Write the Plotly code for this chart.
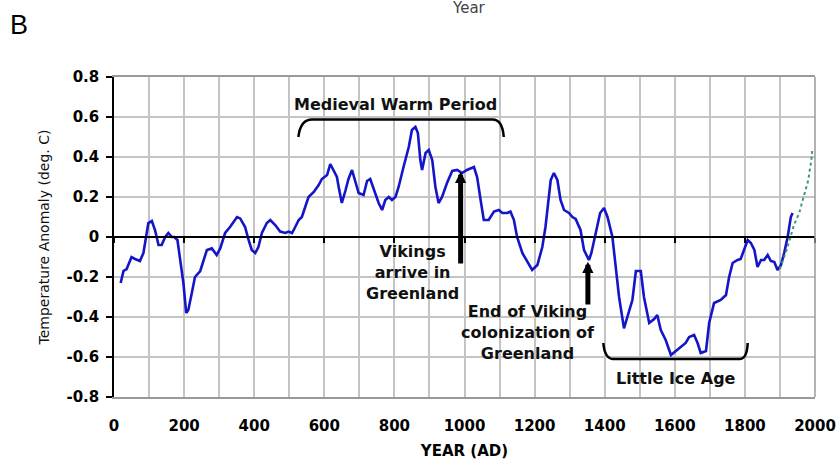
import plotly.graph_objects as go

# Reconstructed Northern Hemisphere temperature anomaly (deg. C), years AD
years = [19, 27, 36, 50, 60, 74, 84, 93, 98, 108, 117, 127, 136, 146, 155, 165, 172, 181,
         189, 198, 206, 212, 222, 231, 246, 255, 265, 279, 293, 303, 317, 331, 351, 360,
         374, 384, 393, 403, 412, 422, 436, 446, 460, 474, 489, 498, 508, 517, 527, 536,
         546, 555, 570, 584, 593, 608, 617, 627, 636, 641, 650, 660, 669, 679, 689, 698,
         712, 722, 731, 741, 755, 765, 774, 784, 793, 803, 812, 826, 841, 850, 860, 867,
         874, 879, 889, 898, 908, 917, 926, 936, 950, 965, 979, 993, 1007, 1027, 1036,
         1046, 1055, 1069, 1084, 1098, 1108, 1122, 1131, 1141, 1150, 1165, 1179, 1193,
         1208, 1222, 1231, 1246, 1255, 1265, 1274, 1284, 1298, 1308, 1317, 1331, 1341,
         1355, 1362, 1374, 1387, 1398, 1408, 1422, 1431, 1441, 1455, 1465, 1479, 1489,
         1503, 1512, 1527, 1541, 1550, 1560, 1574, 1589, 1603, 1617, 1631, 1641, 1655,
         1665, 1674, 1689, 1698, 1712, 1731, 1746, 1755, 1765, 1779, 1788, 1798, 1808,
         1817, 1827, 1836, 1846, 1855, 1865, 1874, 1884, 1893, 1903, 1912, 1922, 1931, 1936]
anomaly = [-0.23, -0.17, -0.16, -0.10, -0.11, -0.12, -0.08, 0.01, 0.07, 0.08, 0.035, -0.04,
           -0.04, 0.0, 0.02, 0.0, 0.0, -0.015, -0.115, -0.23, -0.38, -0.365, -0.28, -0.20,
           -0.17, -0.115, -0.065, -0.057, -0.09, -0.057, 0.02, 0.05, 0.10, 0.093, 0.05,
           -0.015, -0.065, -0.08, -0.05, 0.02, 0.07, 0.085, 0.06, 0.027, 0.02, 0.027, 0.02,
           0.05, 0.085, 0.10, 0.15, 0.20, 0.225, 0.26, 0.29, 0.31, 0.365, 0.33, 0.30, 0.25,
           0.17, 0.23, 0.29, 0.335, 0.27, 0.22, 0.21, 0.28, 0.29, 0.235, 0.17, 0.135, 0.185,
           0.20, 0.185, 0.20, 0.25, 0.35, 0.45, 0.535, 0.55, 0.52, 0.385, 0.335, 0.42, 0.435,
           0.385, 0.25, 0.17, 0.20, 0.27, 0.33, 0.335, 0.32, 0.335, 0.35, 0.30, 0.185, 0.085,
           0.085, 0.127, 0.135, 0.12, 0.12, 0.127, 0.085, 0.0, -0.08, -0.12, -0.165, -0.14,
           -0.05, 0.05, 0.285, 0.32, 0.285, 0.185, 0.135, 0.12, 0.10, 0.09, 0.035, -0.065,
           -0.115, -0.08, 0.02, 0.12, 0.145, 0.10, 0.0, -0.15, -0.30, -0.457, -0.40, -0.315,
           -0.17, -0.17, -0.30, -0.43, -0.41, -0.39, -0.465, -0.515, -0.59, -0.57, -0.55,
           -0.53, -0.50, -0.49, -0.53, -0.58, -0.57, -0.43, -0.33, -0.315, -0.29, -0.20,
           -0.13, -0.115, -0.11, -0.057, -0.015, -0.03, -0.065, -0.15, -0.115, -0.115, -0.09,
           -0.12, -0.125, -0.165, -0.14, -0.08, 0.0, 0.10, 0.12]

# Instrumental record (dotted)
instr_years = [1900, 1920, 1940, 1955, 1965, 1974, 1981, 1985, 1989, 1992]
instr_anomaly = [-0.16, -0.06, 0.06, 0.12, 0.185, 0.235, 0.285, 0.335, 0.375, 0.43]

y_ticks = [-0.8, -0.6, -0.4, -0.2, 0, 0.2, 0.4, 0.6, 0.8]
y_tick_text = ["-0.8", "-0.6", "-0.4", "-0.2", "0", "0.2", "0.4", "0.6", "0.8"]
x_ticks = list(range(0, 2001, 200))
x_tick_text = [str(v) for v in x_ticks]

BOLD = "DejaVu Sans"
GRID = "#c4c4c4"
W, H = 837, 460
L, R, T, B = 114, 22, 77, 63


def paper_x(px):
    return (px - L) / (W - L - R)


def paper_y(py):
    return (H - B - py) / (H - T - B)


fig = go.Figure()
fig.add_trace(go.Scatter(x=years, y=anomaly, mode="lines",
                         line=dict(color="#1414c8", width=2.6), hoverinfo="skip"))
fig.add_trace(go.Scatter(x=instr_years, y=instr_anomaly, mode="lines", xaxis="x2",
                         line=dict(color="#3c9a70", width=2, dash="dot"), hoverinfo="skip"))

fig.update_layout(
    width=W, height=H, autosize=False,
    margin=dict(l=L, r=R, t=T, b=B),
    paper_bgcolor="white", plot_bgcolor="white",
    showlegend=False,
    xaxis=dict(range=[0, 2000], tickvals=x_ticks, ticktext=x_tick_text,
               automargin=False,
               showgrid=True, gridcolor=GRID, gridwidth=1.5,
               minor=dict(dtick=100, showgrid=True, gridcolor=GRID, gridwidth=1.5),
               ticks="", showline=True, linecolor="#9a9a9a", linewidth=1.5, mirror=True,
               zeroline=False, ticklabelstandoff=14,
               tickfont=dict(family=BOLD, size=15, color="black", weight="bold"),
               title=dict(text="YEAR (AD)", standoff=14,
                          font=dict(family=BOLD, size=15, color="black", weight="bold"))),
    xaxis2=dict(range=[0, 2000], overlaying="x", anchor="free", position=0.5,
                automargin=False,
                showgrid=False, showticklabels=False, ticks="outside", ticklen=5,
                tickcolor="black", tickwidth=1.5, dtick=200, tick0=0,
                showline=True, linecolor="black", linewidth=1.5, zeroline=False),
    yaxis=dict(range=[-0.8, 0.8], tickvals=y_ticks, ticktext=y_tick_text,
               automargin=False,
               showgrid=True, gridcolor=GRID, gridwidth=1.5,
               ticks="outside", ticklen=6, tickcolor="black", tickwidth=1.5,
               showline=True, linecolor="black", linewidth=1.5, zeroline=False,
               ticklabelstandoff=4,
               tickfont=dict(family=BOLD, size=15, color="black", weight="bold"),
               title=dict(text="Temperature Anomaly (deg. C)", standoff=14,
                          font=dict(family=BOLD, size=14, color="#111111"))),
)

# right-hand frame edge
fig.add_shape(type="line", xref="paper", yref="paper", x0=1, x1=1, y0=0, y1=1,
              line=dict(color="#9a9a9a", width=1.5))

# braces marking the two climate periods
brace = dict(color="black", width=2.5)
fig.add_shape(type="path", xref="x", yref="y", line=brace,
              path="M 526,0.50 Q 532,0.587 565,0.587 L 1080,0.587 Q 1108,0.587 1112,0.50")
fig.add_shape(type="path", xref="x", yref="y", line=brace,
              path="M 1396,-0.53 Q 1400,-0.61 1425,-0.61 L 1785,-0.61 Q 1806,-0.61 1808,-0.53")

note_font = dict(family=BOLD, size=16, color="#111111", weight="bold")
fig.add_annotation(x=803, y=0.665, xref="x", yref="y", text="Medieval Warm Period",
                   showarrow=False, font=note_font)
fig.add_annotation(x=851, y=-0.175, xref="x", yref="y",
                   text="Vikings<br>arrive in<br>Greenland",
                   showarrow=False, font=note_font)
fig.add_annotation(x=1180, y=-0.475, xref="x", yref="y",
                   text="End of Viking<br>colonization of<br>Greenland",
                   showarrow=False, font=note_font)
fig.add_annotation(x=1603, y=-0.705, xref="x", yref="y", text="Little Ice Age",
                   showarrow=False, font=note_font)

# event arrows
for yr, tip, tail in [(989, 0.326, -0.14), (1352, -0.124, -0.345)]:
    fig.add_annotation(x=yr, y=tip, ax=yr, ay=tail, xref="x", yref="y",
                       axref="x", ayref="y", text="", showarrow=True,
                       arrowhead=2, arrowwidth=5, arrowsize=0.45, arrowcolor="black",
                       standoff=0, startstandoff=0)

# panel labels
fig.add_annotation(x=paper_x(469), y=paper_y(8), xref="paper", yref="paper",
                   xanchor="center", yanchor="middle",
                   text="Year", showarrow=False,
                   font=dict(family="DejaVu Sans", size=15, color="#444444"))
fig.add_annotation(x=paper_x(19), y=paper_y(25), xref="paper", yref="paper",
                   xanchor="center", yanchor="middle",
                   text="B", showarrow=False,
                   font=dict(family="Liberation Sans", size=27, color="black"))

fig.write_html("out.html")
